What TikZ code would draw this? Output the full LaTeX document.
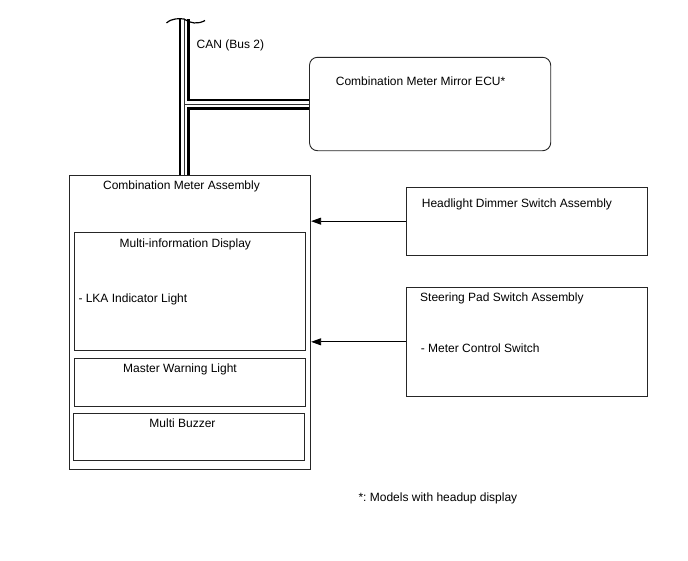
\documentclass[tikz,border=0pt]{standalone}
\usepackage{fontspec}
\setmainfont{Liberation Sans}
\usetikzlibrary{arrows.meta}
\frenchspacing
\begin{document}
\begin{tikzpicture}[x=1pt,y=-1pt,
  box/.style={draw=black!85,line width=0.9pt,inner sep=0pt,minimum width=#1},
  lbl/.style={inner sep=0pt,font=\fontsize{12}{14}\selectfont},
  sig/.style={draw=black,line width=0.9pt,-{Triangle[length=10pt,width=7pt]}},
  busouter/.style={line width=11pt,black,line cap=butt},
  businner/.style={line width=6pt,white,line cap=butt},
  buscore/.style={line width=0.8pt,black!80,line cap=butt}]
\useasboundingbox (0,0) rectangle (688,560);
% boxes
\node[box=241.2,minimum height=93.4,rounded corners=8pt] (ecu) at (430.1,104) {};
\node[box=241.4,minimum height=294] (cma) at (190,322) {};
\node[box=230.7,minimum height=117.3] (mid) at (189.65,291.35) {};
\node[box=230.7,minimum height=47.7] (mwl) at (189.65,382.15) {};
\node[box=231,minimum height=47.4] (mb) at (188.8,437) {};
\node[box=241.3,minimum height=67.7] (hd) at (526.65,221.15) {};
\node[box=241.3,minimum height=108.3] (sp) at (526.65,341.85) {};
% labels
\node[lbl,anchor=base west] (ecut) at (335.7,85) {Combination Meter Mirror ECU*};
\node[lbl,anchor=base] (cmat) at (181.5,189) {Combination Meter Assembly};
\node[lbl,anchor=base] (midt) at (185.3,247.6) {Multi-information Display};
\node[lbl,anchor=base west] (lka) at (78.3,302) {- LKA Indicator Light};
\node[lbl,anchor=base] (mwlt) at (180,372) {Master Warning Light};
\node[lbl,anchor=base] (mbt) at (182.5,427) {Multi Buzzer};
\node[lbl,anchor=base west] (hdt) at (421.7,207.7) {Headlight Dimmer Switch Assembly};
\node[lbl,anchor=base west] (spt) at (420,301.4) {Steering Pad Switch Assembly};
\node[lbl,anchor=base west] (mcs) at (420.7,352) {- Meter Control Switch};
\node[lbl,anchor=base west] (can) at (196.5,48) {CAN (Bus 2)};
\node[lbl,anchor=base west] (note) at (358.3,501.3) {*: Models with headup display};
% CAN bus
\coordinate (bustop) at (184,19);
\coordinate (busbot) at (bustop |- cma.north);
\coordinate (busj) at (bustop |- ecu.west);
\draw[busouter] (bustop) -- (busbot) (busj) -- (ecu.west);
\draw[businner] (bustop) -- (busbot) (busj) -- (ecu.west);
\draw[buscore] (bustop) -- (busbot) (busj) -- (ecu.west);
\draw[line width=1.2pt] (166.5,23) .. controls (172,18) and (179,18.5) .. (bustop)
  .. controls (190,23.5) and (198,24.5) .. (205,20.5);
% signals
\draw[sig] (hd.west) -- (hd.west -| cma.east);
\draw[sig] (sp.west) -- (sp.west -| cma.east);
\end{tikzpicture}
\end{document}
